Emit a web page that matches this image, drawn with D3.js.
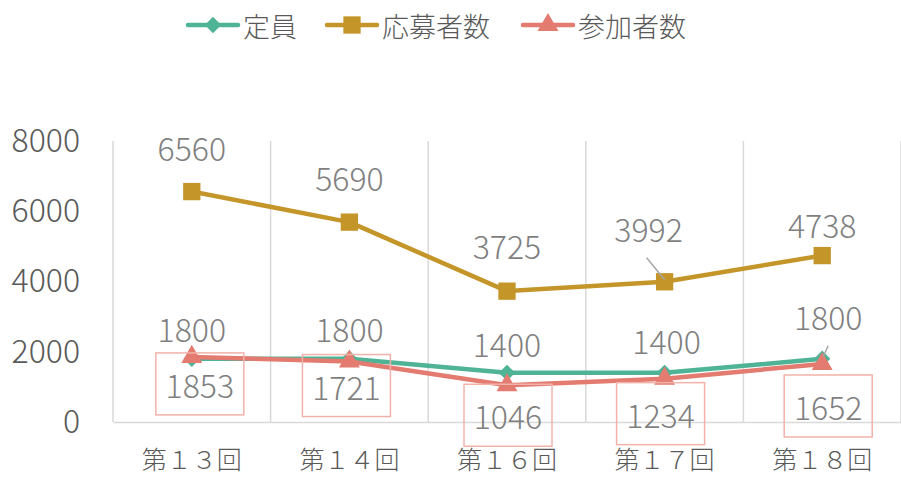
<!DOCTYPE html>
<html>
<head>
<meta charset="utf-8">
<script src="https://cdn.jsdelivr.net/npm/d3@7"></script>
<style>
  body { margin: 0; background: #fff; }
  svg { display: block; font-family: "Noto Sans CJK JP", "Noto Sans", sans-serif; }
</style>
</head>
<body>
<div id="chart"></div>
<script>
// data
const categories = ["第１３回", "第１４回", "第１６回", "第１７回", "第１８回"];
const teiin = [1800, 1800, 1400, 1400, 1800];       // 定員
const oubo = [6560, 5690, 3725, 3992, 4738];        // 応募者数
const sanka = [1853, 1721, 1046, 1234, 1652];       // 参加者数
const seriesNames = ["定員", "応募者数", "参加者数"];
const yTicks = [0, 2000, 4000, 6000, 8000];

const width = 901, height = 478;
const margin = { top: 141, right: 0, bottom: 56, left: 113 };

const colors = { "定員": "#4fb395", "応募者数": "#c4962a", "参加者数": "#e37b70" };

const svg = d3.select("#chart").append("svg")
  .attr("width", width)
  .attr("height", height);

const x = d3.scaleBand()
  .domain(categories)
  .range([margin.left, width - margin.right])
  .paddingInner(0).paddingOuter(0);

const y = d3.scaleLinear()
  .domain([0, 8000])
  .range([height - margin.bottom, margin.top]);

const cx = d => x(d) + x.bandwidth() / 2;

// vertical gridlines at category borders
const borders = categories.map(c => x(c)).concat([x.range()[1]]);
svg.append("g")
  .selectAll("line")
  .data(borders)
  .enter()
  .append("line")
  .attr("x1", d => d).attr("x2", d => d)
  .attr("y1", y(8000)).attr("y2", y(0))
  .attr("stroke", "#d9d9d9")
  .attr("stroke-width", 1.5);

// bottom axis line + category labels
const xAxis = svg.append("g")
  .attr("transform", "translate(0," + y(0) + ")")
  .call(d3.axisBottom(x).tickSize(0).tickPadding(29));
xAxis.select(".domain").attr("stroke", "#d9d9d9").attr("stroke-width", 1.5);
xAxis.selectAll("text")
  .attr("fill", "#595959")
  .style("font-size", "25px")
  .style("font-weight", "300")
  .style("font-family", "\"Noto Sans CJK JP\", sans-serif");

// y axis labels only
const yAxis = svg.append("g")
  .attr("transform", "translate(80,0)")
  .call(d3.axisLeft(y).tickValues(yTicks).tickSize(0).tickPadding(0).tickFormat(d3.format("d")));
yAxis.select(".domain").remove();
yAxis.selectAll("text")
  .attr("fill", "#595959")
  .style("font-size", "32px")
  .style("font-weight", "300")
  .style("font-family", "\"Noto Sans CJK JP\", sans-serif");

const seriesData = [
  { name: "定員", values: teiin },
  { name: "応募者数", values: oubo },
  { name: "参加者数", values: sanka }
];

const line = d3.line()
  .x((d, i) => cx(categories[i]))
  .y(d => y(d));

const symbolFor = {
  "定員": d3.symbol().type(d3.symbolDiamond2).size(170),
  "応募者数": d3.symbol().type(d3.symbolSquare).size(300),
  "参加者数": d3.symbol().type(d3.symbolTriangle).size(190)
};

seriesData.forEach(s => {
  svg.append("path")
    .datum(s.values)
    .attr("fill", "none")
    .attr("stroke", colors[s.name])
    .attr("stroke-width", 4.5)
    .attr("stroke-linejoin", "round")
    .attr("d", line);

  svg.append("g")
    .selectAll("path")
    .data(s.values)
    .enter()
    .append("path")
    .attr("d", symbolFor[s.name])
    .attr("transform", (d, i) => "translate(" + cx(categories[i]) + "," + y(d) + ")")
    .attr("fill", colors[s.name]);
});

// data labels
const labelColor = "#7f7f7f";
const labels = svg.append("g")
  .style("font-size", "32px")
  .style("font-weight", "300")
  .attr("fill", labelColor)
  .attr("text-anchor", "middle")
  .attr("dominant-baseline", "central");

// label nudges (dx, dy) relative to the point
const ouboNudge = [[0, -45], [0, -45], [0, -46], [-16, -54], [0, -32]];
const teiinNudge = [[0, -31], [0, -31], [0, -30], [2, -33], [6, -43]];
const sankaNudge = [[8, 27], [-3, 24], [1, 30], [-4, 35], [6, 42]];

oubo.forEach((v, i) => {
  const px = cx(categories[i]), py = y(v);
  labels.append("text")
    .attr("x", px + ouboNudge[i][0]).attr("y", py + ouboNudge[i][1])
    .text(v);
});

teiin.forEach((v, i) => {
  const px = cx(categories[i]), py = y(v);
  labels.append("text")
    .attr("x", px + teiinNudge[i][0]).attr("y", py + teiinNudge[i][1])
    .text(v);
});

sanka.forEach((v, i) => {
  const px = cx(categories[i]), py = y(v);
  const lx = px + sankaNudge[i][0], ly = py + sankaNudge[i][1];
  svg.append("rect")
    .attr("x", lx - 44).attr("y", ly - 31)
    .attr("width", 88).attr("height", 62)
    .attr("fill", "none")
    .attr("stroke", "#f2b2aa")
    .attr("stroke-width", 1.5);
  labels.append("text")
    .attr("x", lx).attr("y", ly)
    .text(v);
});

// leader lines
svg.append("line")
  .attr("x1", cx(categories[3]) - 18).attr("y1", y(oubo[3]) - 24)
  .attr("x2", cx(categories[3])).attr("y2", y(oubo[3]) - 2)
  .attr("stroke", "#a6a6a6").attr("stroke-width", 1.5);
svg.append("line")
  .attr("x1", cx(categories[4]) + 6).attr("y1", y(teiin[4]) - 13)
  .attr("x2", cx(categories[4]) + 1).attr("y2", y(teiin[4]) - 2)
  .attr("stroke", "#a6a6a6").attr("stroke-width", 1.5);

// legend
const legendX = [188, 327, 523];
const legend = svg.append("g");
seriesNames.forEach((name, i) => {
  const g = legend.append("g").attr("transform", "translate(" + legendX[i] + ",25)");
  g.append("line")
    .attr("x1", 0).attr("x2", 50)
    .attr("stroke", colors[name])
    .attr("stroke-width", 4.5)
    .attr("stroke-linecap", "round");
  g.append("path")
    .attr("d", symbolFor[name])
    .attr("transform", "translate(25,0)")
    .attr("fill", colors[name]);
  g.append("text")
    .attr("x", 55).attr("y", 0)
    .attr("dominant-baseline", "central")
    .attr("fill", "#595959")
    .style("font-size", "27px")
    .style("font-weight", "300")
    .text(name);
});
</script>
</body>
</html>
